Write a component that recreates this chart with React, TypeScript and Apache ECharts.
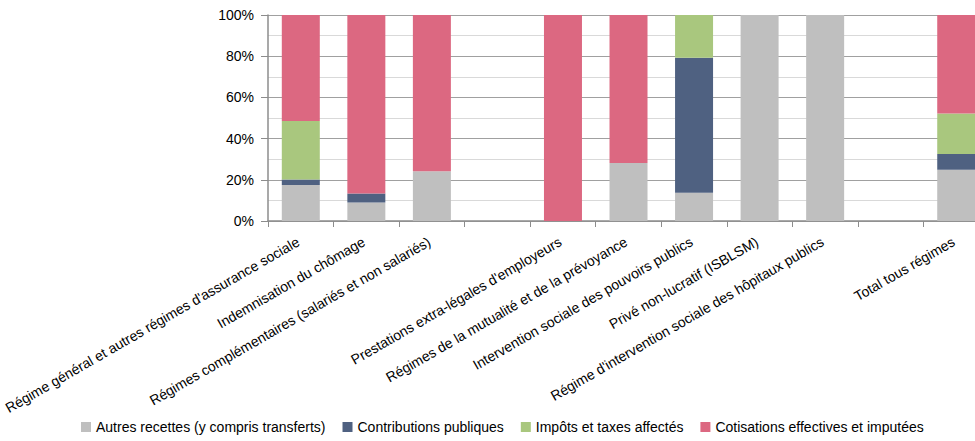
import React, { useEffect, useRef } from "react";
import * as echarts from "echarts";

// Regimes (two blank slots separate the groups)
const categories = [
  "Régime général et autres régimes d'assurance sociale",
  "Indemnisation du chômage",
  "Régimes complémentaires (salariés et non salariés)",
  "",
  "Prestations extra-légales d'employeurs",
  "Régimes de la mutualité et de la prévoyance",
  "Intervention sociale des pouvoirs publics",
  "Privé non-lucratif (ISBLSM)",
  "Régime d'intervention sociale des hôpitaux publics",
  "",
  "Total tous régimes",
];

// Share of resources, in %
const autresRecettes = [17.5, 9.0, 24.2, null, 0, 28.1, 13.7, 100, 100, null, 24.9];
const contributionsPubliques = [2.7, 4.4, 0, null, 0, 0, 65.6, 0, 0, null, 7.6];
const impotsTaxes = [28.3, 0, 0, null, 0, 0, 20.7, 0, 0, null, 19.7];
const cotisations = [51.5, 86.6, 75.8, null, 100, 71.9, 0, 0, 0, null, 47.8];

const yTicks = [0, 20, 40, 60, 80, 100];

const seriesDefs = [
  { name: "Autres recettes (y compris transferts)", data: autresRecettes, color: "#BFBFBF" },
  { name: "Contributions publiques", data: contributionsPubliques, color: "#4F6181" },
  { name: "Impôts et taxes affectés", data: impotsTaxes, color: "#A9C77E" },
  { name: "Cotisations effectives et imputées", data: cotisations, color: "#DC6881" },
];

export default function App() {
  const ref = useRef<HTMLDivElement>(null);

  useEffect(() => {
    if (!ref.current) return;
    const chart = echarts.init(ref.current, null, { renderer: "svg" });
    const font = "'Liberation Sans', Arial, sans-serif";
    chart.setOption({
      animation: false,
      textStyle: { fontFamily: font },
      // the last category runs slightly past the visible edge
      grid: { left: 268, top: 15, bottom: 220, right: 0, containLabel: false },
      legend: {
        bottom: 2,
        left: 76,
        itemWidth: 10,
        itemHeight: 10,
        itemGap: 17,
        icon: "rect",
        textStyle: { fontSize: 14, color: "#000", fontFamily: font },
        data: seriesDefs.map((s) => s.name),
      },
      xAxis: {
        type: "category",
        data: categories,
        axisLine: { lineStyle: { color: "#8c8c8c", width: 1.5 } },
        axisTick: { show: true, length: 6, alignWithLabel: false, lineStyle: { color: "#8c8c8c" } },
        axisLabel: {
          interval: 0,
          rotate: 30,
          fontSize: 14,
          color: "#000",
          fontFamily: font,
          padding: [0, 3, 0, 0],
          margin: 18,
        },
      },
      yAxis: {
        type: "value",
        min: yTicks[0],
        max: yTicks[yTicks.length - 1],
        interval: 20,
        axisLine: { show: true, lineStyle: { color: "#8c8c8c", width: 1.5 } },
        axisTick: { show: true, length: 7, lineStyle: { color: "#8c8c8c" } },
        axisLabel: {
          formatter: (v: number) => `${v}%`,
          fontSize: 14,
          color: "#000",
          fontFamily: font,
          margin: 14,
        },
        splitLine: { show: true, lineStyle: { color: "#a0a0a0", width: 1.2 } },
        minorTick: { show: false, splitNumber: 2 },
        minorSplitLine: { show: true, lineStyle: { color: "#d9d9d9", width: 1.2 } },
      },
      series: seriesDefs.map((s) => ({
        name: s.name,
        type: "bar",
        stack: "total",
        barWidth: 38,
        data: s.data,
        itemStyle: { color: s.color },
      })),
    });
    return () => chart.dispose();
  }, []);

  return (
    <div
      ref={ref}
      style={{ position: "fixed", left: 0, top: 0, width: 989, height: 441, background: "#fff" }}
    />
  );
}
